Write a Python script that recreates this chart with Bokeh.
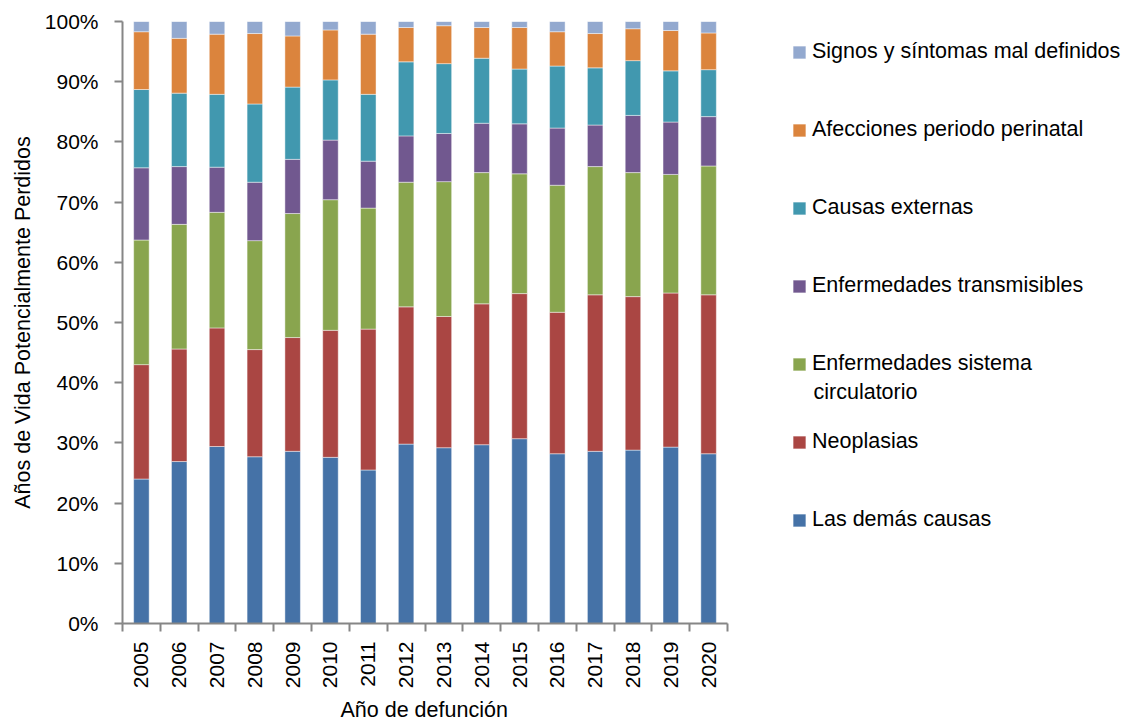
from bokeh.plotting import figure
from bokeh.models import (ColumnDataSource, FixedTicker, PrintfTickFormatter,
                          Legend, LegendItem, Range1d, Label, Title)
from bokeh.embed import file_html
from bokeh.resources import INLINE
import math

years = ["2005", "2006", "2007", "2008", "2009", "2010", "2011", "2012",
         "2013", "2014", "2015", "2016", "2017", "2018", "2019", "2020"]

demas_causas = [24.0, 26.9, 29.4, 27.7, 28.6, 27.6, 25.5, 29.8, 29.2, 29.7, 30.7, 28.2, 28.6, 28.8, 29.3, 28.2]
neoplasias = [19.0, 18.7, 19.7, 17.8, 18.9, 21.1, 23.4, 22.8, 21.8, 23.4, 24.1, 23.5, 26.0, 25.5, 25.6, 26.4]
circulatorio = [20.7, 20.7, 19.2, 18.1, 20.6, 21.7, 20.1, 20.7, 22.4, 21.8, 19.9, 21.1, 21.3, 20.6, 19.7, 21.4]
transmisibles = [12.0, 9.6, 7.5, 9.7, 9.0, 9.9, 7.8, 7.7, 8.0, 8.2, 8.3, 9.5, 6.9, 9.5, 8.7, 8.2]
externas = [13.0, 12.2, 12.1, 13.0, 12.0, 10.0, 11.1, 12.3, 11.6, 10.8, 9.1, 10.3, 9.5, 9.1, 8.5, 7.8]
perinatal = [9.6, 9.1, 10.0, 11.7, 8.5, 8.3, 10.0, 5.7, 6.3, 5.1, 6.9, 5.7, 5.7, 5.3, 6.7, 6.1]
mal_definidos = [1.7, 2.8, 2.1, 2.0, 2.4, 1.4, 2.1, 1.0, 0.7, 1.0, 1.0, 1.7, 2.0, 1.2, 1.5, 1.9]

series_names = ["Las demás causas", "Neoplasias", "Enfermedades sistema",
                "Enfermedades transmisibles", "Causas externas",
                "Afecciones periodo perinatal", "Signos y síntomas mal definidos"]
label_continuation = "circulatorio"
x_title = "Año de defunción"
y_title = "Años de Vida Potencialmente Perdidos"
series_values = [demas_causas, neoplasias, circulatorio, transmisibles,
                 externas, perinatal, mal_definidos]
colors = ["#4572A7", "#AA4643", "#89A54E", "#71588F", "#4198AF", "#DB843D", "#93A9CF"]

FONT = "Liberation Sans"

W, H = 1131, 727
LEFT, RIGHT_PLOT, TOP, BOTTOM = 122, 727, 21, 623
n = len(years)
x_end = n * (W - LEFT) / (RIGHT_PLOT - LEFT)

p = figure(width=W, height=H, output_backend="svg", toolbar_location=None,
           x_range=Range1d(0, x_end), y_range=Range1d(0, 100),
           min_border_left=LEFT, min_border_right=0, min_border_top=TOP,
           min_border_bottom=H - BOTTOM)
p.outline_line_color = None
p.grid.visible = False
p.background_fill_color = "white"

xs = [i + 0.5 for i in range(n)]
bottom = [0.0] * n
renderers = []
for name, vals, col in zip(series_names, series_values, colors):
    top = [b + v for b, v in zip(bottom, vals)]
    src = ColumnDataSource(dict(x=xs, bottom=bottom, top=top))
    r = p.vbar(x="x", bottom="bottom", top="top", width=0.41, source=src,
               fill_color=col, line_color="white", line_alpha=0.45, line_width=1)
    renderers.append(r)
    bottom = top

# y axis
p.yaxis.ticker = FixedTicker(ticks=list(range(0, 101, 10)))
p.yaxis.formatter = PrintfTickFormatter(format="%d%%")
p.yaxis.axis_label = y_title
p.yaxis.major_tick_out = 8
p.yaxis.major_tick_in = 0
p.yaxis.minor_tick_out = 0
p.yaxis.minor_tick_in = 0
p.yaxis.major_label_standoff = 16
p.yaxis.axis_label_standoff = 7

# x axis
p.xaxis.ticker = FixedTicker(ticks=xs, minor_ticks=list(range(0, n + 1)))
p.xaxis.bounds = (0, n)
p.xaxis.major_label_overrides = {x: y for x, y in zip(xs, years)}
p.xaxis.major_label_orientation = math.pi / 2
p.xaxis.major_tick_out = 0
p.xaxis.major_tick_in = 0
p.xaxis.minor_tick_out = 8
p.xaxis.minor_tick_in = 0
p.xaxis.major_label_standoff = 10

for ax in (p.xaxis, p.yaxis):
    ax.axis_line_color = "#868686"
    ax.axis_line_width = 2
    ax.major_tick_line_color = "#868686"
    ax.minor_tick_line_color = "#868686"
    ax.major_tick_line_width = 2
    ax.minor_tick_line_width = 2
    ax.major_label_text_font = FONT
    ax.major_label_text_font_size = "21px"
    ax.major_label_text_color = "#000000"
    ax.axis_label_text_font = FONT
    ax.axis_label_text_font_size = "21.5px"
    ax.axis_label_text_font_style = "normal"
    ax.axis_label_text_color = "#000000"

# x-axis title, centred under the bars (not under the whole frame)
xt = Title(text=x_title, align="left", offset=218, standoff=8,
           text_font=FONT, text_font_size="21.5px", text_font_style="normal",
           text_color="#000000")
p.add_layout(xt, "below")

items = [LegendItem(label=nm, renderers=[r]) for nm, r in zip(series_names, renderers)][::-1]
legend = Legend(items=items, location=(669, 91), padding=0, margin=0,
                spacing=53, glyph_width=16, glyph_height=16, label_standoff=5,
                label_text_font=FONT, label_text_font_size="21.5px",
                label_text_color="#000000", border_line_alpha=0,
                background_fill_alpha=0)
p.add_layout(legend, "center")

cont = Label(x=691, y=BOTTOM - 391, x_units="screen", y_units="screen",
             text=label_continuation, text_font=FONT, text_font_size="21.5px",
             text_color="#000000", text_baseline="middle", text_align="left")
p.add_layout(cont)

open("out.html", "w").write(file_html(p, INLINE))
